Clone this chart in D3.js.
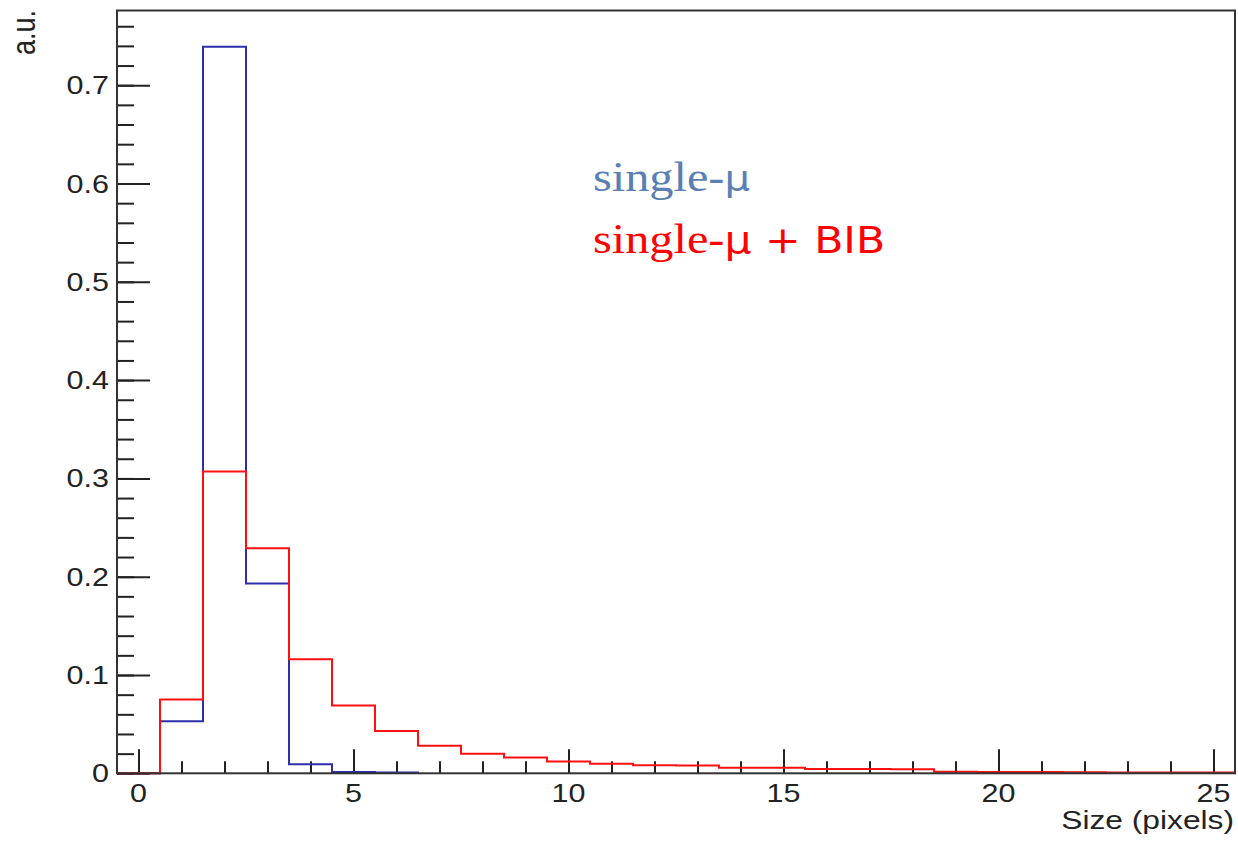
<!DOCTYPE html>
<html>
<head>
<meta charset="utf-8">
<script src="https://cdn.jsdelivr.net/npm/d3@7"></script>
<style>
  html, body { margin: 0; padding: 0; background: #fff; }
  svg { display: block; }
</style>
</head>
<body>
<svg id="chart" width="1238" height="845"></svg>
<script>
// ---- data (bin centres 0..25, width 1) ----
const binCenters = d3.range(0, 26);
const singleMu = [0, 0.053, 0.739, 0.193, 0.0093, 0.0012, 0.0008];
const singleMuBIB = [0, 0.075, 0.307, 0.229, 0.116, 0.069, 0.043, 0.028, 0.020, 0.016,
                     0.012, 0.0098, 0.0081, 0.0080, 0.0057, 0.0056, 0.0044, 0.0043, 0.0042,
                     0.0015, 0.0013, 0.0012, 0.0010, 0.0009, 0.0008, 0.0007];
const xMajorTicks = [0, 5, 10, 15, 20, 25];
const xTickLabels = ["0", "5", "10", "15", "20", "25"];
const yMajorTicks = [0, 0.1, 0.2, 0.3, 0.4, 0.5, 0.6, 0.7];
const yTickLabels = ["0", "0.1", "0.2", "0.3", "0.4", "0.5", "0.6", "0.7"];
const xTitle = "Size (pixels)";
const yTitle = "a.u.";

// ---- layout ----
const svg = d3.select("#chart");
const L = 117, R = 1235, T = 10.5, B = 773.3;
const x = d3.scaleLinear().domain([-0.5, 25.5]).range([L, R]);
const y = d3.scaleLinear().domain([0, 0.776]).range([B, T]);
const SX = 1.22; // horizontal stretch of the original raster text

// ---- ticks ----
const xMinor = d3.range(0, 26);
const yMinor = d3.range(0, 39).map(i => +(i * 0.02).toFixed(2));

function tickStyle(g) {
  g.select(".domain").remove();
  g.selectAll("line").attr("stroke", "#222").attr("stroke-width", 2);
  g.selectAll("text").remove();
}
svg.append("g").attr("transform", `translate(0,${B})`)
  .call(d3.axisBottom(x).tickValues(xMinor).tickSize(-12).tickFormat(""))
  .call(tickStyle);
svg.append("g").attr("transform", `translate(0,${B})`)
  .call(d3.axisBottom(x).tickValues(xMajorTicks).tickSize(-24).tickFormat(""))
  .call(tickStyle);
svg.append("g").attr("transform", `translate(${L},0)`)
  .call(d3.axisLeft(y).tickValues(yMinor).tickSize(-17).tickFormat(""))
  .call(tickStyle);
svg.append("g").attr("transform", `translate(${L},0)`)
  .call(d3.axisLeft(y).tickValues(yMajorTicks).tickSize(-33).tickFormat(""))
  .call(tickStyle);

// ---- histograms ----
function stepPoints(vals) {
  const pts = [[-0.5, 0]];
  vals.forEach((v, i) => { pts.push([binCenters[i] - 0.5, v]); pts.push([binCenters[i] + 0.5, v]); });
  pts.push([binCenters[vals.length - 1] + 0.5, 0]);
  return pts;
}
const line = d3.line().x(d => x(d[0])).y(d => y(d[1]));
svg.append("path").attr("d", line(stepPoints(singleMu)))
  .attr("fill", "none").attr("stroke", "#2e2eaa").attr("stroke-width", 2);
svg.append("path").attr("d", line(stepPoints(singleMuBIB)))
  .attr("fill", "none").attr("stroke", "#ff1010").attr("stroke-width", 2);

// ---- frame ----
svg.append("rect").attr("x", L).attr("y", T).attr("width", R - L).attr("height", B - T)
  .attr("fill", "none").attr("stroke", "#333").attr("stroke-width", 2);

// ---- tick labels ----
const axFont = "'Liberation Sans', Arial, Helvetica, sans-serif";
svg.append("g").selectAll("text").data(yMajorTicks).join("text")
  .attr("transform", d => `translate(109,${y(d)}) scale(${SX},1)`)
  .attr("dy", "0.36em").attr("text-anchor", "end")
  .attr("font-family", axFont).attr("font-size", 25).attr("fill", "#222")
  .text((d, i) => yTickLabels[i]);
svg.append("g").selectAll("text").data(xMajorTicks).join("text")
  .attr("transform", d => `translate(${x(d)},802) scale(${SX},1)`)
  .attr("text-anchor", "middle")
  .attr("font-family", axFont).attr("font-size", 25).attr("fill", "#222")
  .text((d, i) => xTickLabels[i]);

// ---- axis titles ----
svg.append("text")
  .attr("transform", `translate(1234,829) scale(${SX},1)`)
  .attr("text-anchor", "end")
  .attr("font-family", axFont).attr("font-size", 26).attr("fill", "#222")
  .text(xTitle);
svg.append("text")
  .attr("transform", `translate(35,10) scale(${SX},1) rotate(-90)`)
  .attr("text-anchor", "end")
  .attr("font-family", axFont).attr("font-size", 27).attr("fill", "#222")
  .text(yTitle);

// ---- legend text ----
const serif = "'Liberation Serif', 'Times New Roman', serif";
const sans = "'DejaVu Sans', 'Noto Sans', sans-serif";
const t1 = svg.append("text").attr("transform", `translate(593,191) scale(1.15,1)`)
  .attr("font-size", 42).attr("fill", "#5a7fb3");
t1.append("tspan").attr("font-family", serif).text("single-");
t1.append("tspan").attr("font-family", sans).attr("font-size", 35).text("μ");
const t2 = svg.append("text").attr("transform", `translate(593,253) scale(1.15,1)`)
  .attr("font-size", 42).attr("fill", "#ff0000");
t2.append("tspan").attr("font-family", serif).text("single-");
t2.append("tspan").attr("font-family", sans).attr("font-size", 37).text("μ + BIB");
</script>
</body>
</html>
